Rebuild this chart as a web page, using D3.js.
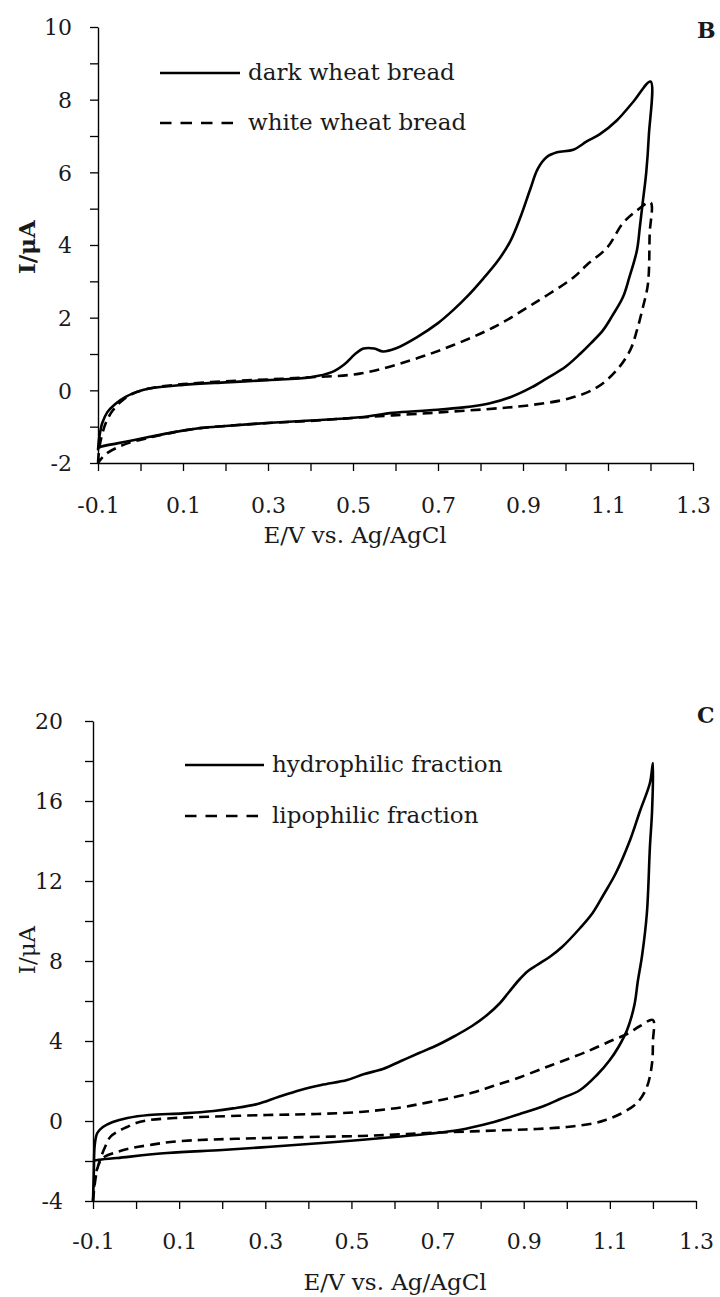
<!DOCTYPE html>
<html>
<head>
<meta charset="utf-8">
<script src="https://cdn.jsdelivr.net/npm/d3@7"></script>
<style>
  html, body { margin: 0; padding: 0; background: #fff; }
  svg { display: block; }
  text { font-family: "DejaVu Serif", "Liberation Serif", serif; fill: #1a1a1a; }
</style>
</head>
<body>
<svg id="chart" width="720" height="1297"></svg>
<script>
// ---------- Panel B data (E/V, I/µA) ----------
const panelBLabels = ["dark wheat bread", "white wheat bread"];
const darkFwd = [[-0.1,-1.65],[-0.097,-1.3],[-0.09,-0.9],[-0.078,-0.6],[-0.06,-0.38],[-0.035,-0.18],[-0.01,-0.05],[0.02,0.05],[0.1,0.15],[0.2,0.22],[0.3,0.28],[0.4,0.36],[0.45,0.5],[0.48,0.72],[0.505,1.0],[0.525,1.15],[0.55,1.15],[0.571,1.07],[0.6,1.15],[0.65,1.46],[0.7,1.85],[0.735,2.2],[0.77,2.6],[0.806,3.07],[0.84,3.55],[0.87,4.1],[0.895,4.8],[0.916,5.5],[0.935,6.1],[0.956,6.42],[0.98,6.55],[1.018,6.62],[1.05,6.85],[1.081,7.05],[1.12,7.42],[1.16,7.95],[1.2,8.5]];
const darkRev = [[1.2,8.5],[1.196,7.0],[1.19,6.0],[1.182,5.2],[1.175,4.5],[1.168,3.85],[1.15,3.1],[1.135,2.56],[1.11,2.05],[1.088,1.65],[1.06,1.3],[1.034,1.0],[1.0,0.65],[0.956,0.33],[0.92,0.08],[0.87,-0.19],[0.82,-0.36],[0.76,-0.47],[0.68,-0.55],[0.594,-0.62],[0.516,-0.74],[0.4,-0.83],[0.298,-0.9],[0.2,-0.98],[0.14,-1.04],[0.08,-1.15],[0.022,-1.28],[-0.02,-1.38],[-0.055,-1.46],[-0.095,-1.56],[-0.1,-1.6]];
const whiteFwd = [[-0.1,-2.0],[-0.097,-1.6],[-0.09,-1.2],[-0.08,-0.85],[-0.065,-0.55],[-0.045,-0.3],[-0.02,-0.1],[0.02,0.05],[0.1,0.17],[0.2,0.25],[0.3,0.3],[0.4,0.36],[0.516,0.46],[0.634,0.82],[0.735,1.24],[0.83,1.73],[0.924,2.38],[1.018,3.1],[1.05,3.45],[1.098,3.93],[1.135,4.6],[1.168,4.95],[1.2,5.17]];
const whiteRev = [[1.2,5.17],[1.198,4.3],[1.194,2.93],[1.182,2.28],[1.168,1.65],[1.152,1.1],[1.12,0.55],[1.074,0.08],[1.01,-0.22],[0.916,-0.41],[0.846,-0.49],[0.712,-0.6],[0.594,-0.69],[0.5,-0.76],[0.4,-0.84],[0.3,-0.9],[0.2,-0.98],[0.14,-1.04],[0.08,-1.15],[0.022,-1.3],[-0.02,-1.42],[-0.05,-1.55],[-0.075,-1.7],[-0.09,-1.85],[-0.1,-2.0]];
const panelBYTicks = [-2, 0, 2, 4, 6, 8, 10];
const panelBYMinor = [-1, 1, 3, 5, 7, 9];

// ---------- Panel C data ----------
const panelCLabels = ["hydrophilic fraction", "lipophilic fraction"];
const hydroFwd = [[-0.1,-4.0],[-0.098,-2.5],[-0.096,-1.2],[-0.09,-0.6],[-0.077,-0.3],[-0.054,-0.05],[-0.02,0.15],[0.03,0.3],[0.109,0.38],[0.18,0.5],[0.225,0.63],[0.282,0.85],[0.33,1.2],[0.382,1.55],[0.43,1.8],[0.49,2.05],[0.53,2.35],[0.573,2.6],[0.615,3.0],[0.657,3.4],[0.7,3.8],[0.74,4.25],[0.78,4.75],[0.815,5.3],[0.845,5.9],[0.864,6.4],[0.889,7.05],[0.91,7.5],[0.931,7.8],[0.96,8.2],[0.989,8.7],[1.031,9.65],[1.06,10.4],[1.085,11.3],[1.114,12.4],[1.147,14.05],[1.17,15.5],[1.193,16.9],[1.2,17.9]];
const hydroRev = [[1.2,17.9],[1.198,15.5],[1.193,13.7],[1.186,10.4],[1.175,8.3],[1.165,7.0],[1.157,5.8],[1.14,4.55],[1.12,3.7],[1.1,3.05],[1.07,2.3],[1.031,1.55],[0.984,1.1],[0.947,0.75],[0.891,0.35],[0.822,-0.1],[0.75,-0.45],[0.675,-0.65],[0.6,-0.8],[0.52,-0.95],[0.4,-1.15],[0.304,-1.3],[0.2,-1.45],[0.072,-1.6],[-0.044,-1.85],[-0.09,-1.95],[-0.1,-2.0]];
const lipoFwd = [[-0.1,-4.0],[-0.095,-3.0],[-0.09,-2.4],[-0.084,-1.95],[-0.072,-1.3],[-0.06,-0.8],[-0.04,-0.5],[-0.021,-0.3],[0.0,-0.1],[0.032,0.05],[0.09,0.15],[0.148,0.2],[0.304,0.3],[0.42,0.35],[0.52,0.45],[0.615,0.68],[0.675,0.92],[0.73,1.15],[0.782,1.42],[0.829,1.75],[0.88,2.1],[0.947,2.65],[0.984,2.95],[1.05,3.5],[1.107,4.05],[1.14,4.35],[1.17,4.75],[1.2,5.05]];
const lipoRev = [[1.2,5.05],[1.2,4.0],[1.198,2.9],[1.186,1.7],[1.163,0.9],[1.124,0.35],[1.09,0.05],[1.061,-0.12],[1.0,-0.3],[0.93,-0.4],[0.868,-0.45],[0.78,-0.52],[0.675,-0.6],[0.6,-0.68],[0.52,-0.75],[0.4,-0.8],[0.304,-0.85],[0.148,-0.95],[0.08,-1.05],[0.032,-1.2],[-0.01,-1.35],[-0.044,-1.55],[-0.077,-1.85],[-0.092,-2.5],[-0.097,-3.2],[-0.1,-4.0]];
const panelCYTicks = [-4, 0, 4, 8, 12, 16, 20];
const panelCYMinor = [-2, 2, 6, 10, 14, 18];

// ---------- shared ----------
const xTicks = [-0.1, 0.1, 0.3, 0.5, 0.7, 0.9, 1.1, 1.3];
const xMinor = [0, 0.2, 0.4, 0.6, 0.8, 1.0, 1.2];
const xTitle = "E/V vs. Ag/AgCl";
const yTitle = "I/μA";

const svg = d3.select("#chart");

function drawPanel(cfg) {
  const x = d3.scaleLinear().domain([-0.1, 1.3]).range([cfg.left, cfg.right]);
  const y = d3.scaleLinear().domain(cfg.yDomain).range([cfg.bottom, cfg.top]);
  const g = svg.append("g");

  // y axis
  const yAll = cfg.yTicks.concat(cfg.yMinor).sort((a, b) => a - b);
  const yAxis = d3.axisLeft(y).tickValues(yAll).tickSize(8).tickSizeOuter(0)
    .tickPadding(cfg.yPad)
    .tickFormat(d => cfg.yTicks.includes(d) ? String(d) : "");
  const ya = g.append("g").attr("transform", `translate(${cfg.left},0)`).call(yAxis);
  // x axis
  const xAll = xTicks.concat(xMinor).sort((a, b) => a - b);
  const xAxis = d3.axisBottom(x).tickValues(xAll).tickSize(8).tickSizeOuter(0)
    .tickFormat(d => xTicks.some(t => Math.abs(t - d) < 1e-9) ? d.toFixed(1) : "");
  const xa = g.append("g").attr("transform", `translate(0,${cfg.bottom})`).call(xAxis);

  [ya, xa].forEach(a => {
    a.select(".domain").attr("stroke", "#000").attr("stroke-width", 1.4);
    a.selectAll(".tick line").attr("stroke", "#000").attr("stroke-width", 1.3);
    a.selectAll(".tick text").attr("font-family", "DejaVu Serif").attr("font-size", 22).attr("fill", "#222");
  });
  xa.selectAll(".tick text").attr("y", cfg.xLabelBase).attr("dy", 0);
  ya.selectAll(".tick text").attr("dy", "0.36em");

  // curves
  const line = d3.line().x(d => x(d[0])).y(d => y(d[1])).curve(d3.curveCatmullRom.alpha(0.5));
  cfg.series.forEach(s => {
    g.append("path").datum(s.fwd.concat(s.rev.slice(1)))
      .attr("d", line).attr("fill", "none").attr("stroke", "#000")
      .attr("stroke-width", 2.6).attr("stroke-linejoin", "round")
      .attr("stroke-dasharray", s.dashed ? "10,6" : null);
  });

  // legend
  cfg.series.forEach((s, i) => {
    const ly = cfg.legendY[i];
    g.append("line").attr("x1", cfg.legendX1).attr("x2", cfg.legendX2)
      .attr("y1", ly).attr("y2", ly).attr("stroke", "#000").attr("stroke-width", 2.6)
      .attr("stroke-dasharray", s.dashed ? "11.5,9" : null);
    g.append("text").attr("x", cfg.legendX2 + 8).attr("y", ly + 7)
      .attr("font-size", 23).text(s.label);
  });

  // titles
  g.append("text").attr("x", cfg.xTitleX).attr("y", cfg.xTitleY).attr("text-anchor", "middle")
    .attr("font-size", 23).text(xTitle);
  g.append("text").attr("transform", `translate(${cfg.yTitleX},${cfg.yTitleY}) rotate(-90)`)
    .attr("text-anchor", "middle").attr("font-size", 23)
    .attr("font-weight", cfg.yTitleBold ? "bold" : "normal").text(yTitle);
  g.append("text").attr("x", cfg.letterX).attr("y", cfg.letterY).attr("font-size", 22)
    .attr("font-weight", "bold").text(cfg.letter);
}

drawPanel({
  left: 98, right: 693, top: 27, bottom: 463, yDomain: [-2, 10],
  yTicks: panelBYTicks, yMinor: panelBYMinor, yPad: 18, xLabelBase: 50,
  series: [
    { label: panelBLabels[0], fwd: darkFwd, rev: darkRev, dashed: false },
    { label: panelBLabels[1], fwd: whiteFwd, rev: whiteRev, dashed: true }
  ],
  legendX1: 160, legendX2: 240, legendY: [73, 123],
  xTitleX: 355, xTitleY: 543, yTitleX: 35, yTitleY: 247, yTitleBold: true,
  letter: "B", letterX: 697, letterY: 38
});

drawPanel({
  left: 93, right: 696, top: 721, bottom: 1201, yDomain: [-4, 20],
  yTicks: panelCYTicks, yMinor: panelCYMinor, yPad: 22, xLabelBase: 48,
  series: [
    { label: panelCLabels[0], fwd: hydroFwd, rev: hydroRev, dashed: false },
    { label: panelCLabels[1], fwd: lipoFwd, rev: lipoRev, dashed: true }
  ],
  legendX1: 185, legendX2: 264, legendY: [765, 816],
  xTitleX: 395, xTitleY: 1290, yTitleX: 35, yTitleY: 950, yTitleBold: false,
  letter: "C", letterX: 697, letterY: 723
});
</script>
</body>
</html>
